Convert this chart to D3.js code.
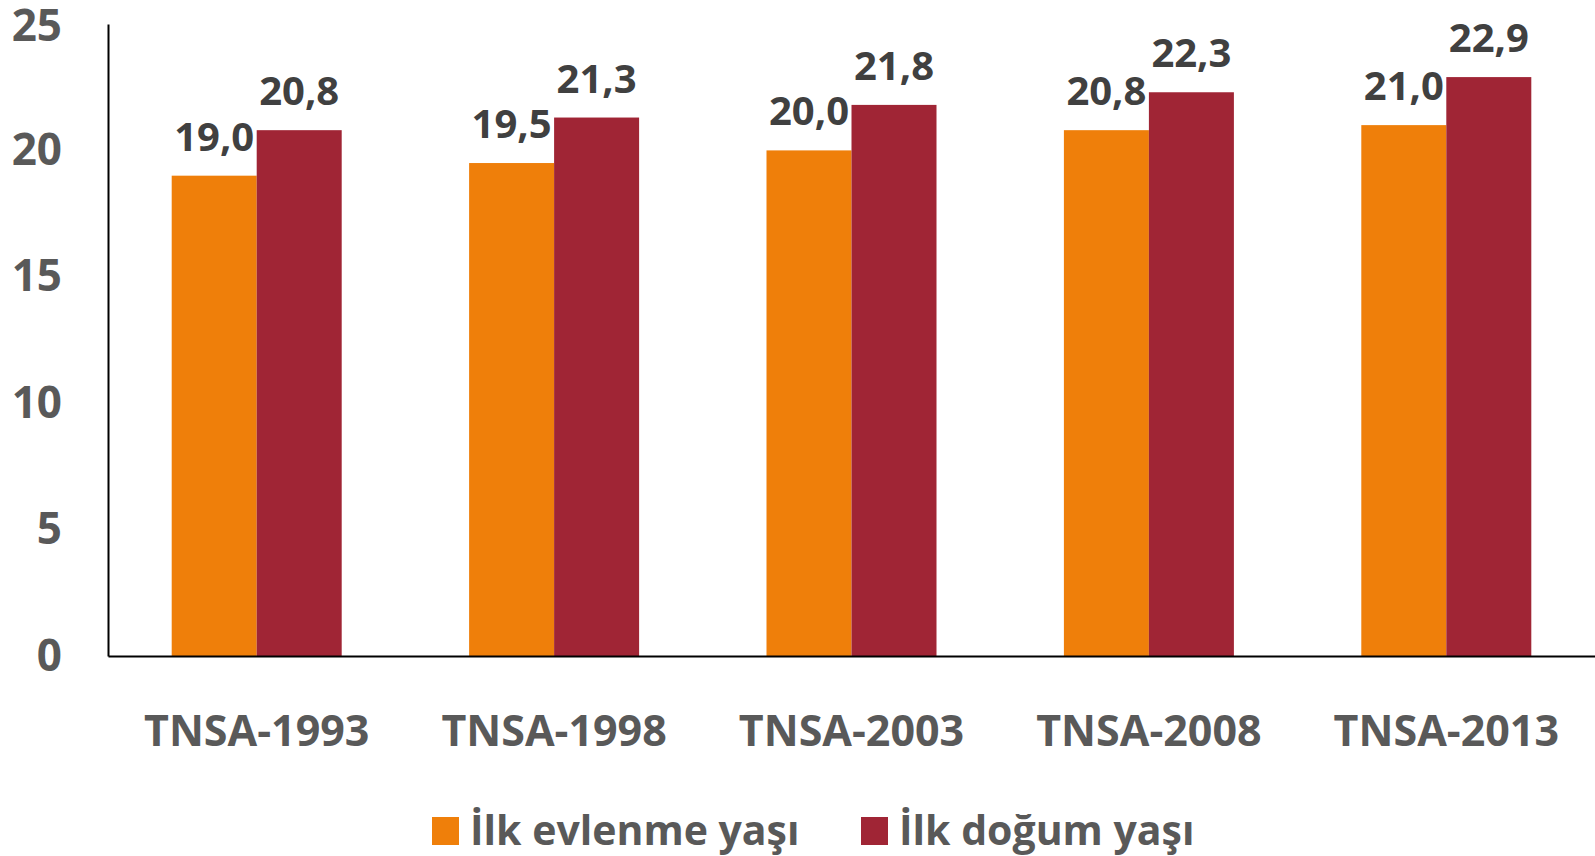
<!DOCTYPE html>
<html>
<head>
<meta charset="utf-8">
<script src="https://cdn.jsdelivr.net/npm/d3@7"></script>
<style>
  html, body { margin: 0; padding: 0; background: #fff; }
  svg { display: block; font-family: "Open Sans", sans-serif; font-weight: bold; }
</style>
</head>
<body>
<svg id="chart" width="1595" height="856"></svg>
<script>
// Data
var categories = ["TNSA-1993", "TNSA-1998", "TNSA-2003", "TNSA-2008", "TNSA-2013"];
var seriesNames = ["İlk evlenme yaşı", "İlk doğum yaşı"];
var evlenme = [19.0, 19.5, 20.0, 20.8, 21.0];
var dogum = [20.8, 21.3, 21.8, 22.3, 22.9];
var yTicks = [0, 5, 10, 15, 20, 25];
var colors = ["#EF7F0A", "#A02535"];

var svg = d3.select("#chart");

var x = d3.scaleBand().domain(categories).range([108, 1595]).paddingInner(0).paddingOuter(0);
var y = d3.scaleLinear().domain([0, 25]).range([656, 24]);

var barW = 85;
var series = [evlenme, dogum];

// bars
series.forEach(function (vals, si) {
    svg.append("g").selectAll("rect")
        .data(vals)
        .enter().append("rect")
        .attr("x", function (d, i) { return x(categories[i]) + x.bandwidth() / 2 - barW + si * barW; })
        .attr("y", function (d) { return y(d); })
        .attr("width", barW)
        .attr("height", function (d) { return y(0) - y(d); })
        .style("fill", colors[si]);
});

// value labels
series.forEach(function (vals, si) {
    svg.append("g").selectAll("text")
        .data(vals)
        .enter().append("text")
        .attr("x", function (d, i) { return x(categories[i]) + x.bandwidth() / 2 - barW / 2 + si * barW; })
        .attr("y", function (d) { return y(d) - 25; })
        .attr("text-anchor", "middle")
        .attr("font-size", 40)
        .style("fill", "#404040")
        .text(function (d) { return d.toFixed(1).replace(".", ","); });
});

// y axis
var yAxis = svg.append("g")
    .attr("transform", "translate(108,0)")
    .call(d3.axisLeft(y).tickValues(yTicks).tickSize(0).tickPadding(46));
yAxis.select(".domain").attr("stroke", "#000").attr("stroke-width", 2);
yAxis.selectAll("text")
    .attr("font-size", 44)
    .attr("font-family", "Open Sans, sans-serif")
    .attr("font-weight", "bold")
    .style("fill", "#595959");
// keep the top label inside the picture
yAxis.selectAll(".tick text").filter(function (d) { return d === 25; }).attr("dy", "0.38em");

// x axis
var xAxis = svg.append("g")
    .attr("transform", "translate(0,656)")
    .call(d3.axisBottom(x).tickSize(0).tickPadding(59));
xAxis.select(".domain").attr("stroke", "#000").attr("stroke-width", 2);
xAxis.selectAll("text")
    .attr("font-size", 43)
    .attr("font-family", "Open Sans, sans-serif")
    .attr("font-weight", "bold")
    .style("fill", "#595959");

// legend
var legendX = [432, 861];
var legend = svg.append("g").selectAll("g")
    .data(seriesNames)
    .enter().append("g")
    .attr("transform", function (d, i) { return "translate(" + legendX[i] + ",817)"; });
legend.append("rect")
    .attr("width", 27).attr("height", 28)
    .style("fill", function (d, i) { return colors[i]; });
legend.append("text")
    .attr("x", 38).attr("y", 28)
    .attr("font-size", 41)
    .style("fill", "#595959")
    .text(function (d) { return d; });
</script>
</body>
</html>
